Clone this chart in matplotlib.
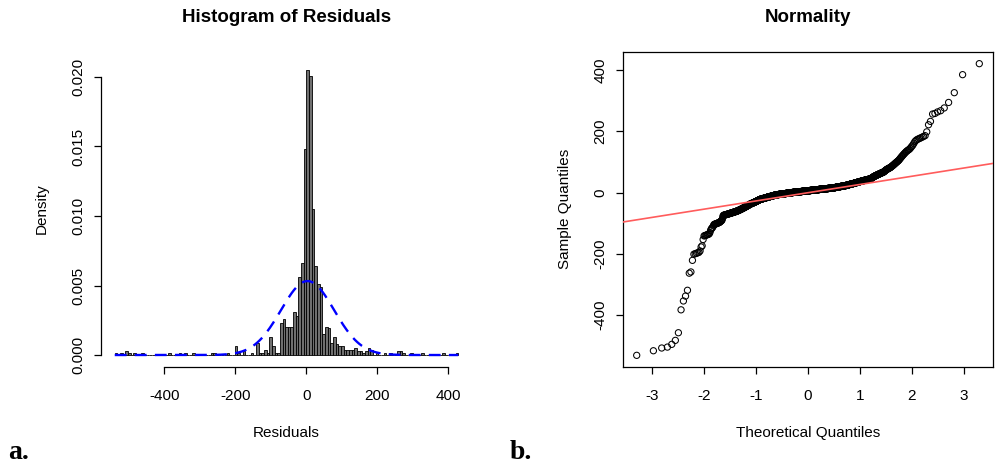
import statistics
import numpy as np
import matplotlib
matplotlib.use('Agg')
import matplotlib.pyplot as plt

# lowest and highest residuals
low_tail = [-533, -518, -509, -506, -497, -484, -459, -384, -355, -339, -320, -264, -260, -222]
high_tail = [222, 233, 257, 259, 264, 268, 277, 295, 327, 386, 422]

# histogram bins (width 7.5) and the counts between -202.5 and 202.5
bin_width = 7.5
first_edge = -540.0
last_edge = 427.5
centre_start = -202.5
centre_counts = [5, 1, 0, 2, 0, 0, 1, 0, 7, 1,
                 1, 3, 1, 10, 5, 1, 1, 18, 20, 16,
                 16, 16, 24, 22, 44, 52, 116, 160, 157, 82,
                 50, 40, 38, 12, 16, 15, 7, 10, 6, 5,
                 5, 3, 3, 3, 3, 4, 2, 2, 1, 2,
                 4, 3, 0, 1]

# normal curve and qq line
curve_mean = 3.0
curve_sd = 75.0
qq_slope = 26.9
qq_intercept = -0.5

# rebuild the residuals: tails as read, other values spread inside their bin
res = list(low_tail)
for i, k in enumerate(centre_counts):
    lo = centre_start + i * bin_width
    for j in range(k):
        res.append(lo + (j + 0.5) * bin_width / k)
res += high_tail
res = np.sort(np.array(res, dtype=float))
n = len(res)

nd = statistics.NormalDist()
theo = np.array([nd.inv_cdf((i - 0.5) / n) for i in range(1, n + 1)])

plt.rcParams['font.family'] = ['Liberation Sans', 'DejaVu Sans']
plt.rcParams['axes.unicode_minus'] = False
tick_size = 11
lab_size = 11

W, H = 1000, 466
fig = plt.figure(figsize=(W / 100, H / 100), dpi=100)


def box(x0, y0, x1, y1):
    return [x0 / W, 1 - y1 / H, (x1 - x0) / W, (y1 - y0) / H]


# ---- a. histogram
ax1 = fig.add_axes(box(101, 51.4, 472, 366.7))
edges = np.arange(first_edge, last_edge + bin_width / 2, bin_width)
ax1.hist(res, bins=edges, density=True, color='#707070', edgecolor='black', linewidth=0.6)
xs = np.linspace(first_edge, last_edge, 300)
norm = statistics.NormalDist(curve_mean, curve_sd)
ys = [norm.pdf(x) for x in xs]
ax1.plot(xs, ys, color='#0000ff', linewidth=1.7, dashes=(5, 3.5))

pad = 0.04 * (last_edge - first_edge)
ax1.set_xlim(first_edge - pad, last_edge + pad)
ax1.set_ylim(-0.00084, 0.02184)
ax1.spines['top'].set_visible(False)
ax1.spines['right'].set_visible(False)
ax1.spines['left'].set_bounds(0, 0.02)
ax1.spines['bottom'].set_bounds(-400, 400)
ax1.set_xticks([-400, -200, 0, 200, 400])
ax1.set_yticks([0, 0.005, 0.010, 0.015, 0.020])
ax1.set_yticklabels(['0.000', '0.005', '0.010', '0.015', '0.020'])

# ---- b. normal qq plot
ax2 = fig.add_axes(box(623, 52, 993, 367))
ax2.scatter(theo, res, s=20, facecolors='none', edgecolors='black', linewidths=0.75, zorder=2)
ax2.axline((0, qq_intercept), slope=qq_slope, color='#ff5c5c', linewidth=1.2, zorder=3)
xr = theo.max() - theo.min()
yr = res.max() - res.min()
ax2.set_xlim(theo.min() - 0.04 * xr, theo.max() + 0.04 * xr)
ax2.set_ylim(res.min() - 0.04 * yr, res.max() + 0.04 * yr)
ax2.set_xticks([-3, -2, -1, 0, 1, 2, 3])
ax2.set_yticks([-400, -200, 0, 200, 400])

for ax in (ax1, ax2):
    for s in ax.spines.values():
        s.set_linewidth(0.9)
    ax.tick_params(direction='out', length=5, width=0.9, labelsize=tick_size)
    ax.tick_params(axis='x', pad=11)
    ax.tick_params(axis='y', pad=6)
    plt.setp(ax.get_yticklabels(), rotation=90, va='center')

fig.text(286.5 / W, 1 - 18 / H, 'Histogram of Residuals', ha='center', va='center',
         fontsize=13.5, fontweight='bold')
fig.text(808 / W, 1 - 18 / H, 'Normality', ha='center', va='center',
         fontsize=13.5, fontweight='bold')
fig.text(42 / W, 1 - 209 / H, 'Density', ha='center', va='center', rotation=90, fontsize=lab_size)
fig.text(565 / W, 1 - 209 / H, 'Sample Quantiles', ha='center', va='center', rotation=90, fontsize=lab_size)
fig.text(286.5 / W, 1 - 433 / H, 'Residuals', ha='center', va='center', fontsize=lab_size)
fig.text(808 / W, 1 - 433 / H, 'Theoretical Quantiles', ha='center', va='center', fontsize=lab_size)
fig.text(8 / W, 1 - 459 / H, 'a.', ha='left', va='baseline', fontsize=20,
         fontweight='bold', family='Liberation Serif')
fig.text(510 / W, 1 - 459 / H, 'b.', ha='left', va='baseline', fontsize=20,
         fontweight='bold', family='Liberation Serif')

fig.savefig('out.png', dpi=100)
